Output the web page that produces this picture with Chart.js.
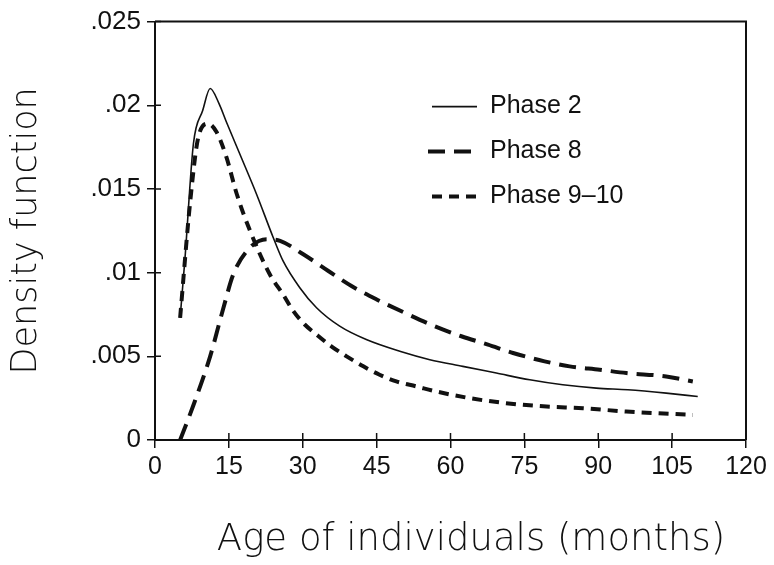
<!DOCTYPE html>
<html>
<head>
<meta charset="utf-8">
<script src="https://cdn.jsdelivr.net/npm/chart.js@4.4.0/dist/chart.umd.min.js"></script>
<style>
  html, body { margin: 0; padding: 0; background: #fff; }
  #wrap { width: 774px; height: 565px; }
</style>
</head>
<body>
<div id="wrap"><canvas id="chart" width="774" height="565"></canvas></div>
<script>
// values (age in months, density)
const phase2Age = [5.1, 6.1, 7.8, 9.7, 11.2, 13.0, 14.5, 17.2, 20.6, 24.0, 26.0, 29.4, 32.8, 37.5, 42.9, 49.7, 55.8, 62.5, 69.3, 76.1, 82.8, 89.6, 96.0, 103.8, 110.2];
const phase2Dens = [0.0073, 0.0109, 0.0177, 0.0197, 0.0210, 0.0201, 0.0190, 0.0171, 0.0147, 0.0121, 0.0107, 0.0091, 0.0079, 0.0068, 0.0060, 0.0053, 0.0048, 0.0044, 0.0040, 0.0036, 0.0033, 0.0031, 0.0030, 0.0028, 0.0026];

const phase8Age = [5.1, 7.7, 11.2, 13.9, 15.9, 19.3, 22.7, 25.4, 30.1, 35.2, 39.9, 45.0, 50.7, 56.8, 62.2, 67.6, 72.7, 79.1, 84.2, 90.3, 95.7, 103.8, 109.2];
const phase8Dens = [0, 0.0020, 0.0050, 0.0079, 0.0099, 0.0115, 0.0120, 0.0119, 0.0111, 0.0101, 0.0092, 0.0084, 0.0076, 0.0068, 0.0062, 0.0057, 0.0052, 0.0047, 0.0044, 0.0042, 0.0040, 0.0038, 0.0035];

const phase910Age = [5.1, 7.1, 8.8, 10.8, 12.5, 14.5, 16.6, 19.3, 23.3, 26.0, 28.1, 30.4, 32.8, 35.8, 38.9, 42.3, 45.6, 49.0, 53.1, 57.1, 63.9, 71.3, 79.5, 86.9, 95.7, 109.2];
const phase910Dens = [0.0073, 0.0141, 0.0181, 0.0189, 0.0184, 0.0169, 0.0147, 0.0125, 0.0099, 0.0087, 0.0077, 0.0069, 0.0063, 0.0056, 0.0050, 0.0044, 0.0039, 0.0035, 0.0032, 0.0029, 0.0025, 0.0022, 0.0020, 0.0019, 0.0017, 0.0015];

const seriesNames = ['Phase 2', 'Phase 8', 'Phase 9\u201310'];
const xTicks = [0, 15, 30, 45, 60, 75, 90, 105, 120];
const yTicks = [0, 0.005, 0.01, 0.015, 0.02, 0.025];
const xTitle = 'Age of individuals (months)';
const yTitle = 'Density function';

function pts(xs, ys) {
    return xs.map((x, i) => ({ x: x, y: ys[i] }));
}

const tickFont = { family: 'Liberation Sans', size: 25 };

// box, ticks crossing into the plot, legend, x title
const extras = {
    id: 'extras',
    afterDraw(chart) {
        const c = chart.ctx;
        const a = chart.chartArea;
        const xs = chart.scales.x, ys = chart.scales.y;
        c.save();
        c.strokeStyle = '#111';
        c.lineWidth = 2;
        c.beginPath();
        c.moveTo(a.left, a.top);
        c.lineTo(a.right, a.top);
        c.lineTo(a.right, a.bottom);
        c.stroke();
        c.lineWidth = 1.5;
        c.beginPath();
        xTicks.forEach(v => {
            const px = xs.getPixelForValue(v);
            c.moveTo(px, a.bottom);
            c.lineTo(px, a.bottom - 7);
        });
        yTicks.forEach(v => {
            const py = ys.getPixelForValue(v);
            c.moveTo(a.left, py);
            c.lineTo(a.left + 6, py);
        });
        c.stroke();

        // legend
        const rows = [106, 151, 196];
        c.font = '400 25px "Liberation Sans"';
        c.fillStyle = '#111';
        c.textBaseline = 'middle';
        chart.data.datasets.forEach((ds, i) => {
            const y = a.top + rows[i] - 21;
            c.strokeStyle = '#111';
            c.lineWidth = ds.borderWidth;
            c.setLineDash(ds.borderDash || []);
            c.lineDashOffset = 0;
            c.beginPath();
            c.moveTo(a.left + (i === 1 ? 273 : 277), y);
            c.lineTo(a.left + 322, y);
            c.stroke();
            c.setLineDash([]);
            c.fillText(ds.label, a.left + 335, y);
        });

        // x axis title, sits a little right of the plot centre
        c.font = '200 37px "DejaVu Sans"';
        c.textAlign = 'center';
        c.textBaseline = 'middle';
        c.fillText(xTitle, a.left + 316, 540);
        c.restore();
    }
};

const ctx = document.getElementById('chart');
const densityChart = new Chart(ctx, {
    type: 'line',
    data: {
        datasets: [
            {
                label: seriesNames[0],
                data: pts(phase2Age, phase2Dens),
                borderColor: '#111',
                borderWidth: 1.6,
                pointRadius: 0,
                cubicInterpolationMode: 'monotone'
            },
            {
                label: seriesNames[1],
                data: pts(phase8Age, phase8Dens),
                borderColor: '#111',
                borderWidth: 4,
                borderDash: [17, 9],
                pointRadius: 0,
                cubicInterpolationMode: 'monotone'
            },
            {
                label: seriesNames[2],
                data: pts(phase910Age, phase910Dens),
                borderColor: '#111',
                borderWidth: 4,
                borderDash: [10, 7],
                pointRadius: 0,
                cubicInterpolationMode: 'monotone'
            }
        ]
    },
    options: {
        responsive: false,
        animation: false,
        layout: { padding: { top: 21, right: 28, left: 0, bottom: 0 } },
        plugins: {
            legend: { display: false },
            tooltip: { enabled: false }
        },
        scales: {
            x: {
                type: 'linear',
                min: 0,
                max: 120,
                afterBuildTicks: s => { s.ticks = xTicks.map(v => ({ value: v })); },
                afterFit: s => { s.height = 125; },
                ticks: { color: '#111', font: tickFont, padding: 4, maxRotation: 0 },
                grid: { drawOnChartArea: false, drawTicks: true, tickLength: 8, color: '#111', lineWidth: 1.5 },
                border: { display: true, color: '#111', width: 2 }
            },
            y: {
                min: 0,
                max: 0.025,
                afterBuildTicks: s => { s.ticks = yTicks.map(v => ({ value: v })); },
                afterFit: s => { s.width = 155; },
                ticks: {
                    color: '#111',
                    font: { family: 'Liberation Sans', size: 26 },
                    padding: 6,
                    callback: v => v === 0 ? '0' : String(Math.round(v * 1000) / 1000).replace(/^0\./, '.')
                },
                grid: { drawOnChartArea: false, drawTicks: true, tickLength: 8, color: '#111', lineWidth: 1.5 },
                border: { display: true, color: '#111', width: 2 },
                title: { display: true, text: yTitle, color: '#111', font: { family: 'DejaVu Sans', size: 35, weight: 200 }, padding: { top: 6, bottom: 0 } }
            }
        }
    },
    plugins: [extras]
});
</script>
</body>
</html>
